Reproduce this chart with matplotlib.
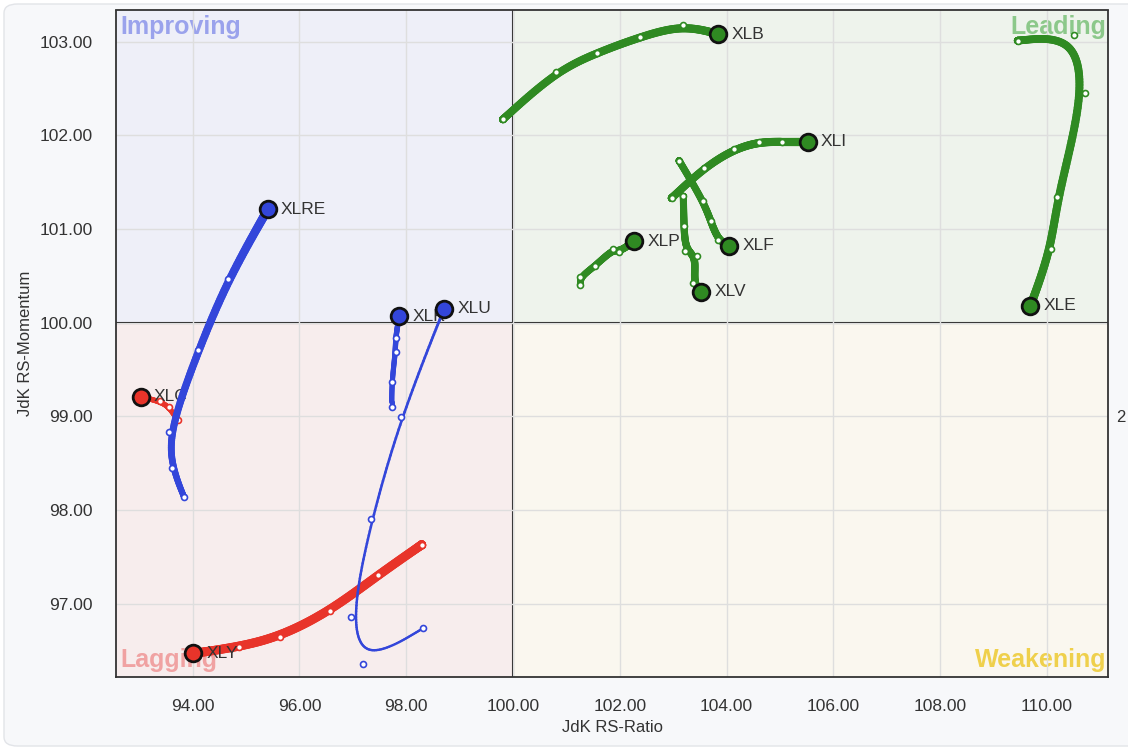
import numpy as np
import matplotlib
matplotlib.use('Agg')
import matplotlib.pyplot as plt
from matplotlib.collections import LineCollection
from matplotlib.patches import Rectangle, FancyBboxPatch

plt.rcParams['font.family'] = ['Liberation Sans', 'DejaVu Sans']

# ---------------- data (tail -> head) ----------------
xlb_ratio = [99.81, 100.80, 101.57, 102.38, 103.18, 103.84]
xlb_mom = [102.17, 102.68, 102.88, 103.05, 103.18, 103.08]

xle_ratio = [109.45, 110.51, 110.71, 110.19, 110.08, 109.69]
xle_mom = [103.01, 103.07, 102.45, 101.34, 100.79, 100.18]

xli_ratio = [102.97, 103.57, 104.13, 104.61, 105.03, 105.52]
xli_mom = [101.33, 101.65, 101.85, 101.93, 101.93, 101.93]

xlf_ratio = [103.11, 103.56, 103.70, 103.84, 104.05]
xlf_mom = [101.73, 101.30, 101.09, 100.88, 100.82]

xlv_ratio = [103.19, 103.20, 103.23, 103.44, 103.37, 103.52]
xlv_mom = [101.35, 101.03, 100.77, 100.71, 100.42, 100.33]

xlp_ratio = [101.26, 101.26, 101.53, 101.88, 101.98, 102.27]
xlp_mom = [100.40, 100.49, 100.60, 100.79, 100.75, 100.87]

xlre_ratio = [93.84, 93.62, 93.55, 94.11, 94.67, 95.41]
xlre_mom = [98.14, 98.45, 98.83, 99.71, 100.47, 101.21]

xlk_ratio = [97.73, 97.73, 97.80, 97.80, 97.87]
xlk_mom = [99.10, 99.37, 99.69, 99.84, 100.07]

xlu_ratio = [98.32, 97.20, 96.96, 97.35, 97.90, 98.71]
xlu_mom = [96.74, 96.36, 96.86, 97.90, 98.99, 100.15]

xlc_ratio = [93.72, 93.56, 93.39, 93.03]
xlc_mom = [98.96, 99.10, 99.16, 99.21]

xly_ratio = [98.29, 97.48, 96.57, 95.64, 94.86, 94.01]
xly_mom = [97.63, 97.31, 96.92, 96.65, 96.54, 96.47]

x_ticks = [94, 96, 98, 100, 102, 104, 106, 108, 110]
y_ticks = [97, 98, 99, 100, 101, 102, 103]
quadrant_names = ['Improving', 'Leading', 'Lagging', 'Weakening']

BLUE = '#3346da'
RED = '#e8342a'
GREEN = '#2f8a22'

# (label, ratio, momentum, colour, tail width, head width) in drawing order
series = [
    ('XLB', xlb_ratio, xlb_mom, GREEN, 5.5, 6.0),
    ('XLE', xle_ratio, xle_mom, GREEN, 5.5, 6.0),
    ('XLI', xli_ratio, xli_mom, GREEN, 5.5, 6.0),
    ('XLF', xlf_ratio, xlf_mom, GREEN, 5.0, 5.5),
    ('XLP', xlp_ratio, xlp_mom, GREEN, 4.5, 5.5),
    ('XLV', xlv_ratio, xlv_mom, GREEN, 5.0, 5.5),
    ('XLC', xlc_ratio, xlc_mom, RED, 3.5, 4.0),
    ('XLRE', xlre_ratio, xlre_mom, BLUE, 4.0, 6.5),
    ('XLY', xly_ratio, xly_mom, RED, 6.5, 6.5),
    ('XLK', xlk_ratio, xlk_mom, BLUE, 3.5, 4.0),
    ('XLU', xlu_ratio, xlu_mom, BLUE, 1.6, 2.0),
]


def bspline(xs, ys, n=24):
    p = np.column_stack([xs, ys]).astype(float)
    p = np.vstack([p[:1], p[:1], p, p[-1:], p[-1:]])
    out = []
    t = np.linspace(0, 1, n, endpoint=False)
    b0 = (1 - t) ** 3 / 6
    b1 = (3 * t ** 3 - 6 * t ** 2 + 4) / 6
    b2 = (-3 * t ** 3 + 3 * t ** 2 + 3 * t + 1) / 6
    b3 = t ** 3 / 6
    for i in range(len(p) - 3):
        seg = (b0[:, None] * p[i] + b1[:, None] * p[i + 1]
               + b2[:, None] * p[i + 2] + b3[:, None] * p[i + 3])
        out.append(seg)
    out.append(p[-1:])
    return np.vstack(out)


W, H = 1128, 750
fig = plt.figure(figsize=(W / 100, H / 100), dpi=100, facecolor='white')
card = FancyBboxPatch((4 / W, 4 / H), (W + 20) / W, (H - 8) / H,
                      boxstyle='round,pad=0,rounding_size=0.012',
                      transform=fig.transFigure, facecolor='#f7f8fa',
                      edgecolor='#e2e4e8', linewidth=1.0, zorder=-10)
fig.patches.append(card)

ax = fig.add_axes([116 / W, 1 - 677 / H, (1108 - 116) / W, (677 - 10.5) / H])
ax.set_zorder(1)
xmin, xmax = 92.566, 111.142
ymin, ymax = 96.219, 103.332
ax.set_xlim(xmin, xmax)
ax.set_ylim(ymin, ymax)

# quadrant backgrounds
ax.add_patch(Rectangle((xmin, 100), 100 - xmin, ymax - 100, facecolor='#eeeff8', edgecolor='none', zorder=0))
ax.add_patch(Rectangle((100, 100), xmax - 100, ymax - 100, facecolor='#eef3ec', edgecolor='none', zorder=0))
ax.add_patch(Rectangle((xmin, ymin), 100 - xmin, 100 - ymin, facecolor='#f7eded', edgecolor='none', zorder=0))
ax.add_patch(Rectangle((100, ymin), xmax - 100, 100 - ymin, facecolor='#faf7ef', edgecolor='none', zorder=0))

ax.set_xticks(x_ticks)
ax.set_yticks(y_ticks)
ax.set_xticklabels([f'{v:.2f}' for v in x_ticks])
ax.set_yticklabels([f'{v:.2f}' for v in y_ticks])
ax.grid(True, color='#dedede', linewidth=1.0)
ax.set_axisbelow(False)
for gl in ax.get_xgridlines() + ax.get_ygridlines():
    gl.set_zorder(0.5)
ax.tick_params(length=0, labelsize=12.5, colors='#333333')
ax.tick_params(axis='y', pad=16.5)
ax.tick_params(axis='x', pad=16)
for s in ax.spines.values():
    s.set_color('#333333')
    s.set_linewidth(1.3)
    s.set_zorder(20)
ax.axvline(100, color='#111111', lw=1.5, zorder=1)
ax.axhline(100, color='#111111', lw=1.5, zorder=1)

ax.set_xlabel('JdK RS-Ratio', fontsize=12, color='#333333', labelpad=4)
ax.set_ylabel('JdK RS-Momentum', fontsize=12, color='#333333', labelpad=5)

# quadrant names
qkw = dict(fontsize=18, fontweight='bold', zorder=1.5)
ax.text(0.004, 0.993, quadrant_names[0], transform=ax.transAxes, ha='left', va='top', color='#9aa2ec', **qkw)
ax.text(0.998, 0.993, quadrant_names[1], transform=ax.transAxes, ha='right', va='top', color='#8cc88a', **qkw)
ax.text(0.004, 0.008, quadrant_names[2], transform=ax.transAxes, ha='left', va='bottom', color='#f0a2a2', **qkw)
ax.text(0.998, 0.008, quadrant_names[3], transform=ax.transAxes, ha='right', va='bottom', color='#efd04c', **qkw)

# trails, dots, labels and heads, series by series
for i, (label, xs, ys, col, w0, w1) in enumerate(series):
    z = 3 + i * 0.1
    c = bspline(xs, ys)
    segs = np.stack([c[:-1], c[1:]], axis=1)
    widths = np.linspace(w0, w1, len(segs))
    lc = LineCollection(segs, colors=col, linewidths=widths, capstyle='round', zorder=z)
    ax.add_collection(lc)
    ax.plot(xs[:-1], ys[:-1], linestyle='none', marker='o', markersize=4.3,
            markerfacecolor='white', markeredgecolor=col, markeredgewidth=1.2, zorder=z + 0.01)
    ax.annotate(label, (xs[-1], ys[-1]), xytext=(9.5, 0), textcoords='offset points',
                fontsize=12.5, color='#333333', ha='left', va='center', zorder=z + 0.02)
    ax.plot([xs[-1]], [ys[-1]], linestyle='none', marker='o', markersize=12,
            markerfacecolor=col, markeredgecolor='#111111', markeredgewidth=2.0, zorder=z + 0.03)

fig.text(1116 / W, 1 - 417 / H, '2', fontsize=12, color='#333333', ha='left', va='center')

fig.savefig('out.png', dpi=100, facecolor=fig.get_facecolor())
